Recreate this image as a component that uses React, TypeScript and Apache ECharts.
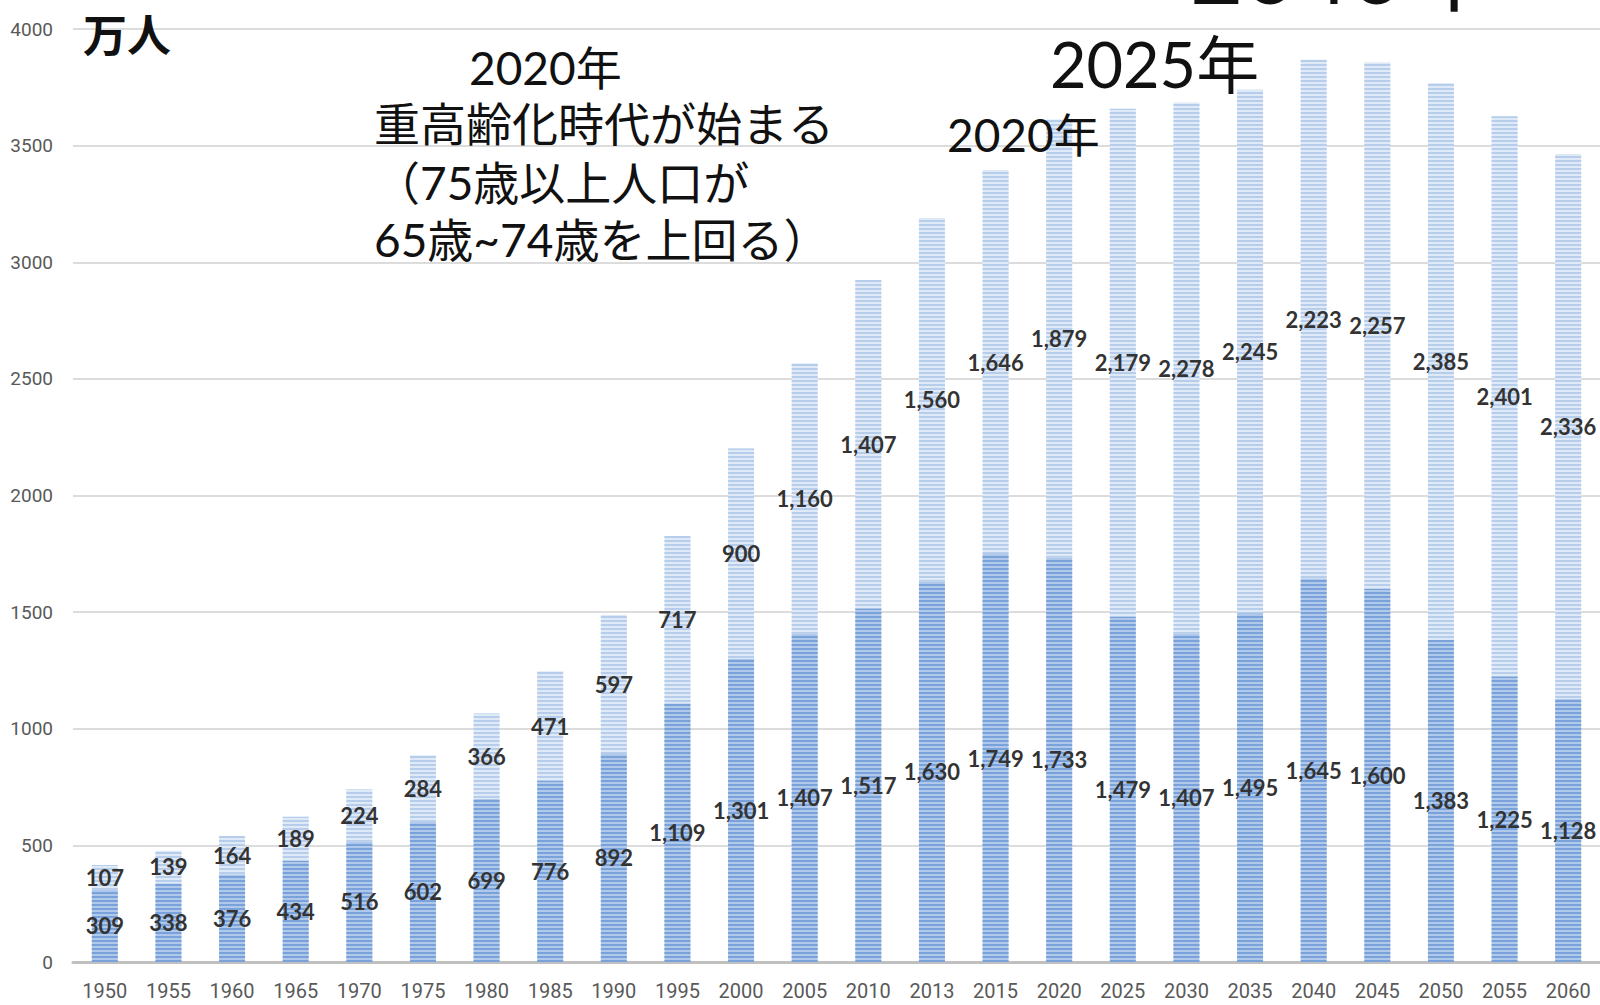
import React, { useEffect, useRef } from "react";
import * as echarts from "echarts";

const years = ["1950","1955","1960","1965","1970","1975","1980","1985","1990","1995","2000","2005","2010","2013","2015","2020","2025","2030","2035","2040","2045","2050","2055","2060"];
const age65to74 = [309,338,376,434,516,602,699,776,892,1109,1301,1407,1517,1630,1749,1733,1479,1407,1495,1645,1600,1383,1225,1128];
const age75plus = [107,139,164,189,224,284,366,471,597,717,900,1160,1407,1560,1646,1879,2179,2278,2245,2223,2257,2385,2401,2336];
const yTicks = { min: 0, max: 4000, interval: 500 };

const unitText = "万人";
const noteLines = ["2020年", "重高齢化時代が始まる", "（75歳以上人口が", "65歳~74歳を上回る）"];
const marker2020 = "2020年";
const marker2025 = "2025年";
const marker2040 = "2040年";

const fmt = (v: number) => v.toLocaleString("en-US");
const annFont = "Lato, 'Noto Sans CJK JP', sans-serif";
const axisFont = "Roboto, sans-serif";

export default function App() {
  const ref = useRef<HTMLDivElement>(null);
  useEffect(() => {
    const chart = echarts.init(ref.current!, null, { renderer: "svg" });
    const labelStyle = {
      show: true,
      position: "inside" as const,
      formatter: (p: any) => fmt(p.value),
      fontFamily: "Lato, sans-serif",
      fontWeight: "bold" as const,
      fontSize: 22,
      color: "#333333",
    };
    const txt = (x: number, y: number, text: string, size: number, family = annFont, va = "middle") => ({
      type: "text",
      x,
      y,
      z: 100,
      style: { text, fontFamily: family, fontSize: size, fill: "#111", verticalAlign: va, align: "left" },
    });
    chart.setOption({
      animation: false,
      backgroundColor: "#ffffff",
      grid: { left: 73, right: -4, top: 29, bottom: 43, containLabel: false },
      xAxis: {
        type: "category",
        data: years,
        axisTick: { show: false },
        axisLine: { lineStyle: { color: "#c0c0c0", width: 3 } },
        axisLabel: { interval: 0, fontFamily: axisFont, fontSize: 20, lineHeight: 20, color: "#595959", margin: 19 },
      },
      yAxis: {
        type: "value",
        min: yTicks.min,
        max: yTicks.max,
        interval: yTicks.interval,
        axisLine: { show: false },
        axisTick: { show: false },
        axisLabel: { fontFamily: axisFont, fontSize: 19, color: "#595959", margin: 20, formatter: (v: number) => String(v) },
        splitLine: { lineStyle: { color: "#dcdcdc", width: 2 } },
      },
      series: [
        {
          name: "65歳~74歳",
          type: "bar",
          stack: "total",
          barWidth: 26,
          data: age65to74,
          itemStyle: {
            color: "#b0c9eb",
            decal: { symbol: "rect", symbolSize: 1, dashArrayX: [1, 0], dashArrayY: [2, 2], rotation: 0, color: "#7aa2da" },
          },
          label: labelStyle,
        },
        {
          name: "75歳以上",
          type: "bar",
          stack: "total",
          barWidth: 26,
          data: age75plus,
          itemStyle: {
            color: "#e0eaf7",
            decal: { symbol: "rect", symbolSize: 1, dashArrayX: [1, 0], dashArrayY: [2, 2], rotation: 0, color: "#b6cdeb" },
          },
          label: labelStyle,
        },
      ],
      graphic: [
        { type: "text", x: 83, y: 33, z: 100, style: { text: unitText, font: "bold 44px 'Noto Sans CJK JP', sans-serif", fill: "#111", verticalAlign: "middle" } },
        txt(469, 67, noteLines[0], 46),
        txt(374, 123, noteLines[1], 46),
        txt(374, 182, noteLines[2], 46),
        txt(374, 239, noteLines[3], 46),
        txt(947, 134, marker2020, 46),
        txt(1050, 63, marker2025, 63, "Lato, 'Noto Sans CJK JP', sans-serif"),
        txt(1190, 14, marker2040, 92, "Lato, 'Noto Sans CJK JP', sans-serif", "bottom"),
      ],
    });
    return () => chart.dispose();
  }, []);
  return <div ref={ref} style={{ position: "absolute", left: 0, top: 0, width: 1600, height: 1005 }} />;
}
